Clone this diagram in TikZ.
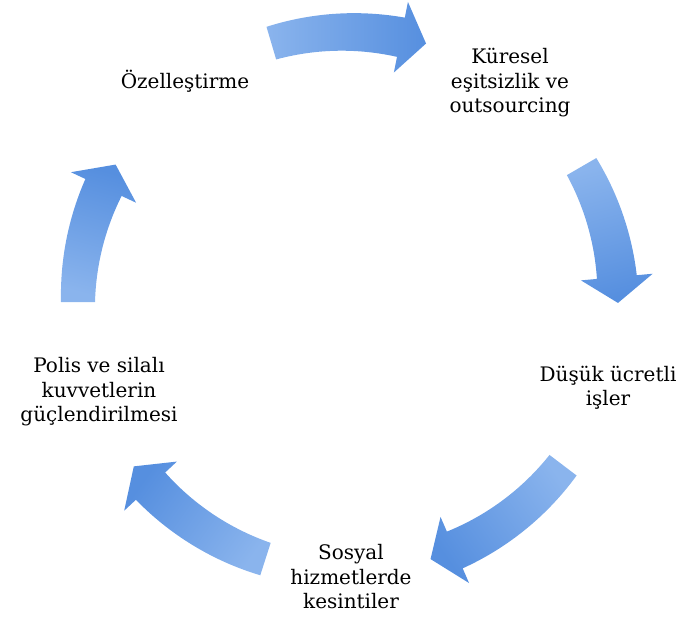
\documentclass[tikz,border=0pt]{standalone}
\usepackage{fontspec}
\setmainfont{DejaVu Serif}
\definecolor{arrlight}{RGB}{138,180,237}
\definecolor{arrdark}{RGB}{86,143,223}
% #1 tail angle, #2 tip angle, #3 mid angle (for shading)
\newcommand{\cycarrow}[3]{%
  \path[top color=arrlight, bottom color=arrdark, shading angle=#3]
    plot[domain=#1:#2+5.5, samples=30, variable=\t] (\t:{287+3*(#1-\t)/(#1-#2-5.5)})
    -- (#2+5.5:306) -- (#2:270) -- (#2+5.5:234)
    -- plot[domain=#2+5.5:#1, samples=30, variable=\t] (\t:{253-3*(#1-\t)/(#1-#2-5.5)})
    -- cycle;}
\tikzset{lbl/.style={font=\fontsize{20}{24.5}\selectfont, align=center, inner sep=0pt, text=black}}
\begin{document}
\begin{tikzpicture}[x=1pt,y=1pt]
\useasboundingbox (0,0) rectangle (679,-617);
\begin{scope}[shift={(348,-302)}]
  \cycarrow{106.5}{73.2}{90}
  \cycarrow{30.1}{-0.2}{15}
  \cycarrow{-37.2}{-72.2}{-54.7}
  \cycarrow{252.2}{217.5}{234.9}
  \cycarrow{180}{149.4}{164.7}
\end{scope}
\node[lbl, anchor=base] (priv) at (185,-89) {Özelleştirme};
\node[lbl] (glob) at (510,-83) {Küresel\\eşitsizlik ve\\outsourcing};
\node[lbl] (low) at (608,-388) {Düşük ücretli\\işler};
\node[lbl] (social) at (351,-577) {Sosyal\\hizmetlerde\\kesintiler};
\node[lbl] (police) at (99,-392) {Polis ve silalı\\kuvvetlerin\\güçlendirilmesi};
\end{tikzpicture}
\end{document}
